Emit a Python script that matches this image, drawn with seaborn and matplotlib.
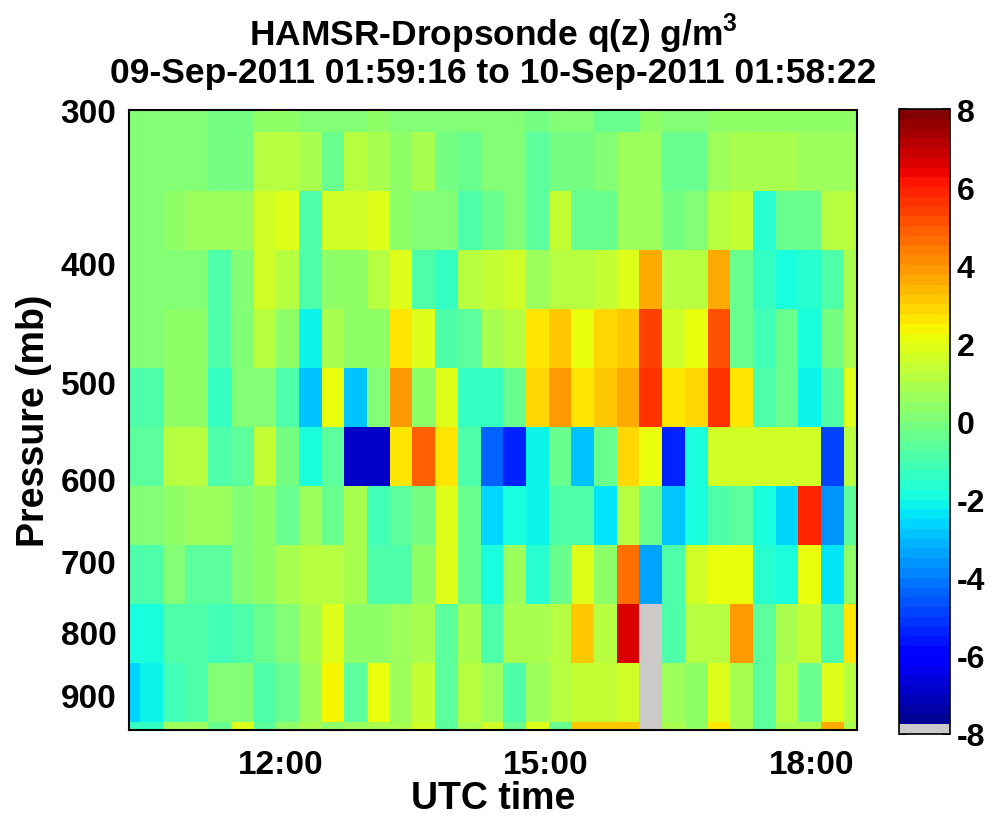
import numpy as np
import matplotlib
matplotlib.use("Agg")
import matplotlib.pyplot as plt
import seaborn as sns
from matplotlib.colors import ListedColormap

# ---------------- data ----------------
# column centre times (UTC hours), one column per dropsonde/HAMSR profile
t_first = 10.276
t_step = 0.2569
n_cols = 33
# row edges (pressure, mb), top to bottom
p_edges = [280.0, 312.9, 349.6, 390.6, 436.3, 487.3, 544.6, 608.5,
           679.8, 759.4, 848.4, 948.0, 1059.0]

nan = np.nan
r0 = [0.2, 0.2, 0.2, 0.2, -0.2, -0.2, 0.3, 0.3, 0.1, 0.0, 0.2, 0.3, 0.2, 0.2, 0.0, 0.0, 0.1,
      0.1, -0.2, 0.0, 0.0, -0.3, -0.3, 0.3, 0.2, 0.2, 0.3, 0.4, 0.4, 0.3, 0.3, 0.3, 0.3]
r1 = [0.2, 0.2, 0.2, 0.2, -0.2, -0.2, 1.0, 1.1, 0.9, -0.4, 1.0, 0.8, 0.3, 0.8, -0.2, -0.3, 0.2,
      0.2, -0.6, -0.2, -0.2, 0.0, 0.6, 0.6, -0.3, -0.3, 0.6, 0.8, 0.8, 0.8, 0.7, 0.6, 0.6]
r2 = [0.1, 0.1, 0.3, 0.6, 0.5, 0.5, 1.7, 1.9, -0.8, 1.6, 1.7, 1.8, 0.3, 0.0, 0.0, -0.8, -0.5,
      0.0, -0.6, 1.4, -0.4, -0.3, 0.6, 0.7, -0.2, 0.0, 1.2, 1.3, -1.6, -0.3, -0.3, 1.0, 1.2]
r3 = [0.0, 0.0, 0.1, 0.2, -1.0, 0.1, 1.7, 1.0, -0.8, 0.3, 0.4, 1.0, 1.8, -0.8, -1.4, 1.2, 1.3,
      1.7, 0.7, 1.2, 1.0, 1.3, 1.9, 3.6, 1.1, 1.2, 3.5, -0.5, -1.3, -1.8, -1.7, -1.0, 0.9]
r4 = [0.2, 0.2, 0.3, 0.3, -1.0, 0.2, 1.0, 0.3, -2.2, 0.8, 0.3, 0.3, 2.5, 1.9, -0.8, -0.6, 0.9,
      1.2, 2.6, 3.1, 2.0, 2.9, 3.0, 5.3, 1.6, 2.2, 5.2, -0.5, -1.2, -0.4, -1.8, -0.1, 0.9]
r5 = [-1.0, -0.9, 0.3, 0.4, -1.3, 0.2, 0.2, -0.8, -2.8, 2.0, -2.9, 0.0, 3.8, 0.4, 1.8, -1.3, -1.3,
      -0.3, 2.8, 3.8, 2.6, 3.0, 3.7, 5.7, 2.6, 2.8, 5.6, 2.5, -1.0, -0.3, -2.2, -0.8, 1.8]
r6 = [-0.7, -0.6, 1.0, 1.0, -0.8, -0.6, 1.3, -0.2, -2.0, -0.6, -7.0, -7.0, 2.7, 4.8, 2.6, -0.9, -4.3,
      -5.3, -2.1, -0.3, -3.0, -0.4, 2.8, 2.0, -5.3, -2.0, 1.5, 1.5, 1.5, 1.5, 1.6, -4.8, 1.0]
r7 = [0.0, 0.0, 0.3, 0.7, 0.6, 0.0, 0.3, -0.5, 0.6, -0.5, 0.8, -1.1, -0.7, -0.2, 1.8, -0.4, -2.6,
      -2.0, -2.1, -0.8, -0.8, -2.4, 1.0, -0.3, -3.0, -1.9, -1.0, -0.7, -1.8, -2.6, 5.8, -3.7, -0.7]
r8 = [-1.0, -1.0, 0.2, -0.6, -0.6, 0.2, 0.4, 0.8, 1.2, 1.2, 0.8, -0.8, -1.0, 0.4, 1.9, -0.3, -2.0,
      0.7, -1.6, -0.3, 1.8, 0.3, 4.6, -3.5, -1.0, 1.5, 2.0, 2.0, -1.7, -2.0, 2.0, -2.3, 0.3]
r9 = [-1.8, -2.0, -1.0, -0.8, -1.2, -0.8, -0.3, 0.2, 0.8, 1.9, 0.4, 0.3, 0.7, 0.8, -0.6, 0.8, -1.0,
      0.8, 0.8, 1.0, 3.0, 1.2, 6.5, nan, -0.8, 1.2, 1.2, 3.8, -0.7, 0.8, 1.3, -0.8, 2.5]
r10 = [-2.6, -2.2, -1.2, -0.8, 0.0, 0.2, -0.9, -0.3, 0.6, 2.3, -0.6, 2.0, 0.7, 1.3, -0.6, 1.2, 0.6,
       -0.8, 0.5, 1.0, 1.4, 1.4, 1.6, nan, 0.6, 0.3, 1.9, 0.8, -0.6, 1.2, -0.4, 1.8, 1.2]
r11 = [-1.5, -1.5, 0.5, 0.5, -0.5, 1.8, -0.6, 0.3, 0.8, 0.3, 0.5, 0.8, 0.8, 1.6, -0.6, 0.8, 1.6,
       -0.5, 1.8, -0.5, 3.0, 3.0, 3.0, nan, 0.8, 0.3, 2.6, 0.8, -0.6, 0.8, 0.8, 3.5, 0.8]

q_anom = np.array([r0, r1, r2, r3, r4, r5, r6, r7, r8, r9, r10, r11])

x_ticks = [12, 15, 18]
x_ticklabels = ["12:00", "15:00", "18:00"]
p_ticks = [300, 400, 500, 600, 700, 800, 900]
cb_ticks = [-8, -6, -4, -2, 0, 2, 4, 6, 8]

title_lines = ["HAMSR-Dropsonde q(z) g/m$^{\\mathbf{3}}$",
               "09-Sep-2011 01:59:16 to 10-Sep-2011 01:58:22"]

# ---------------- style ----------------
sns.set_theme(style="ticks")
plt.rcParams["font.family"] = ["Liberation Sans", "DejaVu Sans"]
plt.rcParams["font.weight"] = "bold"
plt.rcParams["axes.unicode_minus"] = False
plt.rcParams["text.color"] = "black"
plt.rcParams["axes.labelcolor"] = "black"
plt.rcParams["xtick.color"] = "black"
plt.rcParams["ytick.color"] = "black"
plt.rcParams["mathtext.fontset"] = "custom"
plt.rcParams["mathtext.bf"] = "Liberation Sans:bold"
plt.rcParams["mathtext.rm"] = "Liberation Sans:bold"

jet = plt.get_cmap("jet", 64)
cols = jet(np.linspace(0, 1, 64))
cols[0] = [0.80, 0.79, 0.79, 1.0]
cmap = ListedColormap(cols)
cmap.set_bad((0.80, 0.79, 0.79))

W, H = 995, 820
fig = plt.figure(figsize=(W / 100, H / 100), dpi=100)
ax = fig.add_axes([129 / W, 1 - 731 / H, 728 / W, 620 / H])
cax = fig.add_axes([899 / W, 1 - 735 / H, 51 / W, 625 / H])

t_edges = t_first - t_step / 2 + t_step * np.arange(n_cols + 1)
mesh = ax.pcolormesh(t_edges, p_edges, np.ma.masked_invalid(q_anom),
                     cmap=cmap, vmin=-8, vmax=8, shading="flat")
ax.set_yscale("log")
ax.set_ylim(962, 301)
ax.set_xlim(10.279, 18.518)

ax.set_yticks(p_ticks)
ax.set_yticklabels([str(p) for p in p_ticks])
ax.yaxis.set_minor_locator(matplotlib.ticker.NullLocator())
ax.set_xticks(x_ticks)
ax.set_xticklabels(x_ticklabels)

for s in ax.spines.values():
    s.set_linewidth(1.5)
    s.set_color("black")
ax.tick_params(axis="both", which="major", direction="in", length=6, width=1.2,
               top=True, right=True, labelsize=24, colors="black")
ax.tick_params(axis="x", pad=14)
ax.tick_params(axis="y", pad=9)
for lab in ax.get_xticklabels() + ax.get_yticklabels():
    lab.set_fontweight("bold")

ax.set_xlabel("UTC time", fontsize=27, fontweight="bold", labelpad=0, color="black")
ax.set_ylabel("Pressure (mb)", fontsize=27, fontweight="bold", labelpad=6, color="black")
ax.set_title("\n".join(title_lines), fontsize=25.5, fontweight="bold", pad=20,
             linespacing=1.05, color="black")

cb = fig.colorbar(mesh, cax=cax, ticks=cb_ticks)
cb.outline.set_linewidth(1.2)
cb.outline.set_edgecolor("black")
cax.tick_params(direction="in", length=6, width=1.2, left=True, right=True,
                labelsize=23, colors="black", pad=5)
for lab in cax.get_yticklabels():
    lab.set_fontweight("bold")

fig.savefig("out.png", dpi=100, facecolor="white")
